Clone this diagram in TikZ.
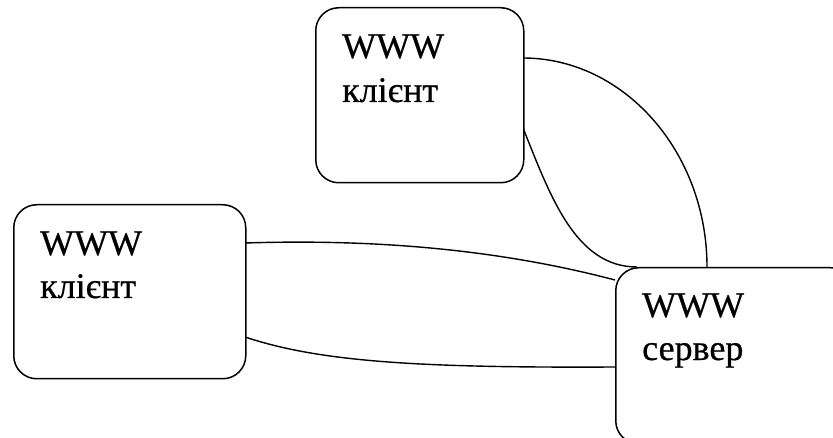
\documentclass[tikz,border=0pt]{standalone}
\usepackage{fontspec}
\setmainfont{Liberation Serif}
\newfontfamily\labelfont[FakeBold=0.6]{Liberation Serif}
\begin{document}
\begin{tikzpicture}[x=1pt,y=-1pt,
  box/.style={draw=black, line width=1.5pt, rounded corners=23pt, fill=white, inner sep=0pt, anchor=north west},
  lbl/.style={font=\labelfont\fontsize{36}{40}\selectfont, inner sep=0pt, anchor=base west},
  wire/.style={draw=black, line width=1.4pt}]
  \useasboundingbox (0,0) rectangle (833,438);
  \clip (0,0) rectangle (833,438);

  % connectors first, boxes drawn on top
  \coordinate (tcA) at (523,58);
  \coordinate (tcB) at (523,128);
  \coordinate (lcA) at (245,243);
  \coordinate (lcB) at (245,337);
  \coordinate (svA) at (707,267);
  \coordinate (svB) at (637,267);
  \coordinate (svC) at (615,280);
  \coordinate (svD) at (615,367);

  \draw[wire] (tcA) .. controls (624,58) and (707,152) .. (svA);
  \draw[wire] (tcB) .. controls (550,195) and (575,267) .. (svB);
  \draw[wire] (lcA) .. controls (400,238) and (520,255) .. (svC);
  \draw[wire] (lcB) .. controls (320,362) and (420,368) .. (svD);

  % boxes
  \node[box, minimum width=208pt, minimum height=175pt] (tc) at (315,7) {};
  \node[box, minimum width=232pt, minimum height=174pt] (lc) at (13,204) {};
  \node[box, minimum width=238pt, minimum height=176pt] (sv) at (615,267) {};

  % labels
  \node[lbl] (tc1) at (342,58) {WWW};
  \node[lbl] (tc2) at (342,102) {клієнт};
  \node[lbl] (lc1) at (40,255) {WWW};
  \node[lbl] (lc2) at (40,298) {клієнт};
  \node[lbl] (sv1) at (642,317) {WWW};
  \node[lbl] (sv2) at (642,360) {сервер};
\end{tikzpicture}
\end{document}
